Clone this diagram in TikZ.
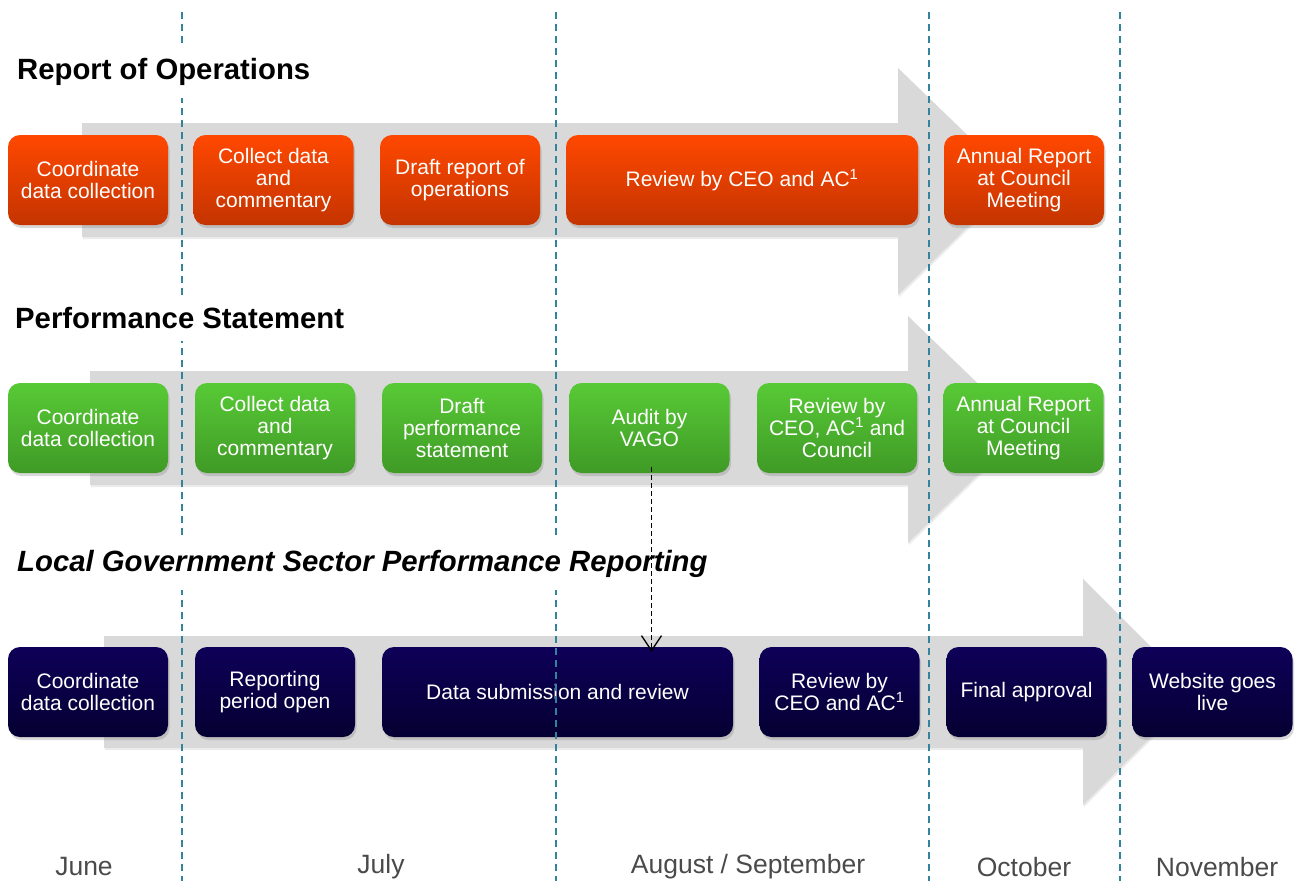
\documentclass[tikz,border=0pt]{standalone}
\usepackage{fontspec}
\setmainfont{Liberation Sans}
\usetikzlibrary{arrows.meta,shadows}

\definecolor{opstop}{HTML}{FF4800}
\definecolor{opsbot}{HTML}{C43400}
\definecolor{perftop}{HTML}{58CA36}
\definecolor{perfbot}{HTML}{3F9A26}
\definecolor{lgtop}{HTML}{0E0058}
\definecolor{lgbot}{HTML}{050032}
\definecolor{arrowgrey}{HTML}{D9D9D9}
\definecolor{monthteal}{HTML}{31849B}
\definecolor{monthgrey}{HTML}{4A4A4A}

\tikzset{
  stagebox/.style={rounded corners=12pt, minimum width=160pt, minimum height=90pt,
    inner sep=0pt, text=white, align=center, font=\fontsize{21}{22}\selectfont,
    drop shadow={shadow xshift=1.5pt, shadow yshift=-3pt, opacity=0.3}},
  opsbox/.style={stagebox, top color=opstop, bottom color=opsbot},
  perfbox/.style={stagebox, top color=perftop, bottom color=perfbot},
  lgbox/.style={stagebox, top color=lgtop, bottom color=lgbot},
  blockarrow/.style={fill=arrowgrey, drop shadow={shadow xshift=1pt, shadow yshift=-2pt, opacity=0.15}},
  monthline/.style={monthteal, line width=1.6pt, dash pattern=on 7pt off 5pt},
  rowtitle/.style={anchor=west, fill=white, inner xsep=2pt, inner ysep=12pt,
    font=\fontsize{29.3}{31}\selectfont\bfseries},
  monthlabel/.style={text=monthgrey, font=\fontsize{26.5}{28}\selectfont}
}

\begin{document}
\begin{tikzpicture}[x=1pt,y=-1pt]
  \useasboundingbox (0,0) rectangle (1298,881);
  % Grey block arrows behind each row
  \fill[blockarrow] (82,123) -- (898,123) -- (898,68) -- (1015,181) -- (898,295) -- (898,237) -- (82,237) -- cycle;
  \fill[blockarrow] (90,371) -- (908,371) -- (908,316) -- (1025,429) -- (908,543) -- (908,485) -- (90,485) -- cycle;
  \fill[blockarrow] (104,636) -- (1083,636) -- (1083,579) -- (1196,692) -- (1083,805) -- (1083,748) -- (104,748) -- cycle;

  % Report of Operations
  \node[opsbox] (opscoord) at (88,180) {Coordinate\\data collection};
  \node[opsbox] (opscollect) at (273.5,180) {Collect data\\and\\commentary};
  \node[opsbox] (opsdraft) at (460,180) {Draft report of\\operations};
  \node[opsbox, minimum width=352pt] (opsreview) at (742,180) {Review by CEO and AC\textsuperscript{1}};
  \node[opsbox] (opsannual) at (1024,180) {Annual Report\\at Council\\Meeting};

  % Performance Statement
  \node[perfbox] (perfcoord) at (88,428) {Coordinate\\data collection};
  \node[perfbox] (perfcollect) at (275,428) {Collect data\\and\\commentary};
  \node[perfbox] (perfdraft) at (462,428) {Draft\\performance\\statement};
  \node[perfbox] (perfvago) at (649.5,428) {Audit by\\VAGO};
  \node[perfbox] (perfreview) at (837,428) {Review by\\CEO, AC\textsuperscript{1} and\\Council};
  \node[perfbox] (perfannual) at (1023.5,428) {Annual Report\\at Council\\Meeting};

  % Local Government Sector Performance Reporting
  \node[lgbox] (lgcoord) at (88,692) {Coordinate\\data collection};
  \node[lgbox] (lgopen) at (275,692) {Reporting\\period open};
  \node[lgbox, minimum width=351pt] (lgsubmit) at (557.5,692) {Data submission and review};
  \node[lgbox] (lgreview) at (839.5,692) {Review by\\CEO and AC\textsuperscript{1}};
  \node[lgbox] (lgfinal) at (1026.5,692) {Final approval};
  \node[lgbox] (lgweb) at (1212.5,692) {Website goes\\live};

  % Month boundaries
  \foreach \mx in {182,556,929,1120}
    \draw[monthline] (\mx,12) -- (\mx,881);

  % Row titles
  \node[rowtitle] (opstitle) at (15,72) {Report of Operations};
  \node[rowtitle] (perftitle) at (13,318) {Performance Statement};
  \node[rowtitle, font=\fontsize{29.3}{31}\selectfont\bfseries\itshape] (lgtitle) at (15,564)
    {Local Government Sector Performance Reporting};

  % Audit feeds the data submission
  \path (perfvago.south |- lgsubmit.north) coordinate (vagoin);
  \draw[line width=1.6pt, dash pattern=on 5pt off 3pt, -{Straight Barb[length=15pt,width=20pt,line width=1.3pt]}]
    ([xshift=2pt,yshift=6pt]perfvago.south) -- ([xshift=2pt,yshift=-5pt]vagoin);

  % Months
  \node[monthlabel] (june) at (84,867) {June};
  \node[monthlabel] (july) at (381,867) {July};
  \node[monthlabel] (augsep) at (748,867) {August / September};
  \node[monthlabel] (october) at (1024,867) {October};
  \node[monthlabel] (november) at (1217,867) {November};
\end{tikzpicture}
\end{document}
